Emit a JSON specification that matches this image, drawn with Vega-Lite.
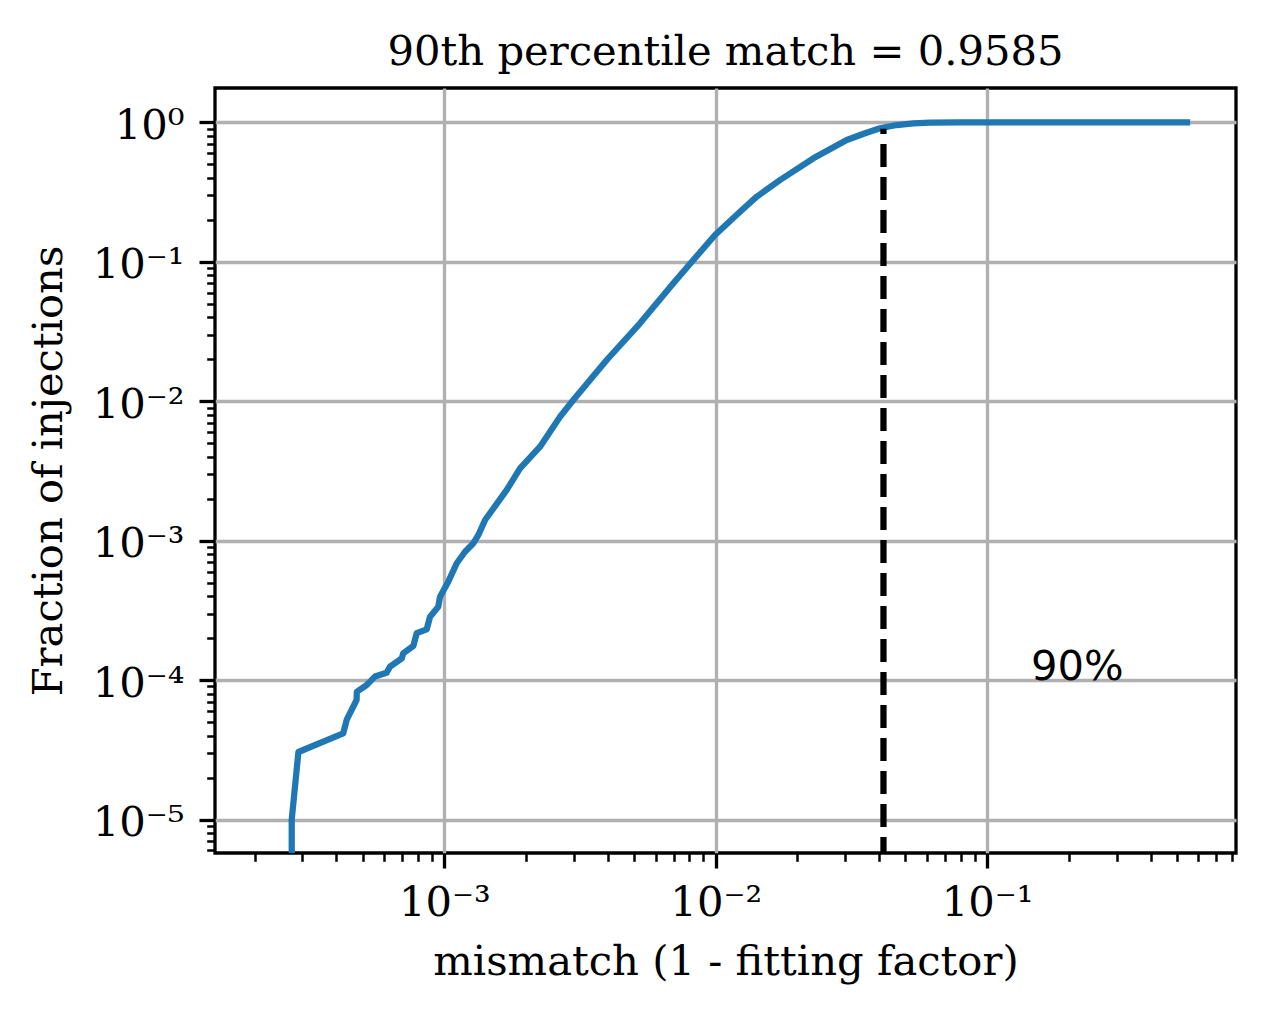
{
  "$schema": "https://vega.github.io/schema/vega-lite/v6.json",
  "width": 1021,
  "height": 765,
  "autosize": {"type": "none"},
  "padding": {"left": 215, "top": 88, "right": 29, "bottom": 160},
  "background": "white",
  "config": {
    "view": {"stroke": "black", "strokeWidth": 3.3},
    "font": "DejaVu Serif",
    "axis": {"labelFont": "DejaVu Serif", "titleFont": "DejaVu Serif", "labelColor": "black", "titleColor": "black"}
  },
  "title": {
    "text": "90th percentile match = 0.9585",
    "font": "DejaVu Serif",
    "fontSize": 41.7,
    "fontWeight": "normal",
    "color": "black",
    "anchor": "middle",
    "frame": "group",
    "baseline": "alphabetic",
    "offset": 25,
    "dy": 44
  },
  "datasets": {
    "curve": [
      {"i": 0, "mismatch": 0.000274, "fraction": 0.000003},
      {"i": 1, "mismatch": 0.000274, "fraction": 0.00001},
      {"i": 2, "mismatch": 0.00029, "fraction": 0.0000305},
      {"i": 3, "mismatch": 0.000424, "fraction": 0.0000415},
      {"i": 4, "mismatch": 0.000437, "fraction": 0.000052},
      {"i": 5, "mismatch": 0.000475, "fraction": 0.000072},
      {"i": 6, "mismatch": 0.000476, "fraction": 0.0000825},
      {"i": 7, "mismatch": 0.000517, "fraction": 0.000092},
      {"i": 8, "mismatch": 0.000555, "fraction": 0.000106},
      {"i": 9, "mismatch": 0.000613, "fraction": 0.000113},
      {"i": 10, "mismatch": 0.000631, "fraction": 0.000125},
      {"i": 11, "mismatch": 0.000697, "fraction": 0.000143},
      {"i": 12, "mismatch": 0.000706, "fraction": 0.000156},
      {"i": 13, "mismatch": 0.000769, "fraction": 0.000176},
      {"i": 14, "mismatch": 0.000791, "fraction": 0.000217},
      {"i": 15, "mismatch": 0.000861, "fraction": 0.000231},
      {"i": 16, "mismatch": 0.000886, "fraction": 0.000285},
      {"i": 17, "mismatch": 0.00095, "fraction": 0.000336},
      {"i": 18, "mismatch": 0.000964, "fraction": 0.000396},
      {"i": 19, "mismatch": 0.001034, "fraction": 0.000508},
      {"i": 20, "mismatch": 0.001111, "fraction": 0.000688},
      {"i": 21, "mismatch": 0.001192, "fraction": 0.000833},
      {"i": 22, "mismatch": 0.001279, "fraction": 0.000957},
      {"i": 23, "mismatch": 0.001335, "fraction": 0.001098},
      {"i": 24, "mismatch": 0.001413, "fraction": 0.001406},
      {"i": 25, "mismatch": 0.001698, "fraction": 0.00231},
      {"i": 26, "mismatch": 0.001901, "fraction": 0.0033},
      {"i": 27, "mismatch": 0.002253, "fraction": 0.00472},
      {"i": 28, "mismatch": 0.002669, "fraction": 0.00774},
      {"i": 29, "mismatch": 0.002987, "fraction": 0.0102},
      {"i": 30, "mismatch": 0.003966, "fraction": 0.01974},
      {"i": 31, "mismatch": 0.00526, "fraction": 0.0362},
      {"i": 32, "mismatch": 0.00698, "fraction": 0.07},
      {"i": 33, "mismatch": 0.00827, "fraction": 0.1029},
      {"i": 34, "mismatch": 0.00994, "fraction": 0.1555},
      {"i": 35, "mismatch": 0.01229, "fraction": 0.2285},
      {"i": 36, "mismatch": 0.01416, "fraction": 0.2928},
      {"i": 37, "mismatch": 0.01726, "fraction": 0.3857},
      {"i": 38, "mismatch": 0.02289, "fraction": 0.552},
      {"i": 39, "mismatch": 0.03039, "fraction": 0.7465},
      {"i": 40, "mismatch": 0.0355, "fraction": 0.834},
      {"i": 41, "mismatch": 0.0403, "fraction": 0.906},
      {"i": 42, "mismatch": 0.04646, "fraction": 0.956},
      {"i": 43, "mismatch": 0.0535, "fraction": 0.9836},
      {"i": 44, "mismatch": 0.0616, "fraction": 0.9934},
      {"i": 45, "mismatch": 0.08, "fraction": 0.998},
      {"i": 46, "mismatch": 0.1, "fraction": 1.0},
      {"i": 47, "mismatch": 0.545, "fraction": 1.0}
    ],
    "cut": [
      {"mismatch": 0.0415, "low": 0.000001, "high": 0.9}
    ],
    "note": [
      {"mismatch": 0.145, "fraction": 0.0001, "label": "90%"}
    ]
  },
  "layer": [
    {
      "data": {"name": "curve"},
      "mark": {"type": "line", "color": "#1f77b4", "strokeWidth": 6.25, "strokeCap": "square", "strokeJoin": "round", "clip": true},
      "encoding": {
        "x": {
          "field": "mismatch",
          "type": "quantitative",
          "scale": {"type": "log", "domain": [0.0001429, 0.826], "nice": false},
          "axis": {
            "orient": "bottom",
            "values": [0.001, 0.01, 0.1],
            "labelExpr": "datum.value < 0.005 ? '10⁻³' : datum.value < 0.05 ? '10⁻²' : '10⁻¹'",
            "labelFontSize": 41.7,
            "labelBaseline": "alphabetic",
            "labelPadding": 47,
            "labelFlush": false,
            "labelOverlap": false,
            "domain": false,
            "grid": true,
            "gridColor": "#b0b0b0",
            "gridWidth": 3.3,
            "ticks": true,
            "tickSize": 15,
            "tickWidth": 3.3,
            "tickColor": "black",
            "title": "mismatch (1 - fitting factor)",
            "titleFontSize": 41.7,
            "titleFontWeight": "normal",
            "titleBaseline": "alphabetic",
            "titleAlign": "center",
            "titleX": 510.5,
            "titleY": 121
          }
        },
        "y": {
          "field": "fraction",
          "type": "quantitative",
          "scale": {"type": "log", "domain": [0.000005755, 1.762], "nice": false},
          "axis": {
            "orient": "left",
            "values": [0.00001, 0.0001, 0.001, 0.01, 0.1, 1],
            "labelExpr": "'10' + (datum.value > 0.5 ? '⁰' : '⁻' + ['⁰','¹','²','³','⁴','⁵'][round(-log(datum.value) / LN10)])",
            "labelFontSize": 41.7,
            "labelBaseline": "alphabetic",
            "labelOffset": 16,
            "labelPadding": 15,
            "labelFlush": false,
            "labelOverlap": false,
            "domain": false,
            "grid": true,
            "gridColor": "#b0b0b0",
            "gridWidth": 3.3,
            "tickSize": 16,
            "tickWidth": 3.3,
            "tickColor": "black",
            "title": "Fraction of injections",
            "titleFontSize": 41.7,
            "titleFontWeight": "normal",
            "titleAngle": -90,
            "titleBaseline": "alphabetic",
            "titleAlign": "center",
            "titleX": -154,
            "titleY": 382.5
          }
        },
        "order": {"field": "i", "type": "quantitative"}
      }
    },
    {
      "data": {"name": "cut"},
      "mark": {"type": "rule", "color": "black", "strokeWidth": 6.25, "strokeDash": [23, 10], "clip": true},
      "encoding": {
        "x": {
          "field": "mismatch",
          "type": "quantitative",
          "axis": {
            "orient": "bottom",
            "values": [0.0002, 0.0003, 0.0004, 0.0005, 0.0006, 0.0007, 0.0008, 0.0009, 0.002, 0.003, 0.004, 0.005, 0.006, 0.007, 0.008, 0.009, 0.02, 0.03, 0.04, 0.05, 0.06, 0.07, 0.08, 0.09, 0.2, 0.3, 0.4, 0.5, 0.6, 0.7, 0.8],
            "labels": false,
            "domain": false,
            "grid": false,
            "tickSize": 8.3,
            "tickWidth": 2.5,
            "tickColor": "black",
            "title": null
          }
        },
        "y": {
          "field": "low",
          "type": "quantitative",
          "axis": {
            "orient": "left",
            "values": [0.000006, 0.000007, 0.000008, 0.000009, 0.00002, 0.00003, 0.00004, 0.00005, 0.00006, 0.00007, 0.00008, 0.00009, 0.0002, 0.0003, 0.0004, 0.0005, 0.0006, 0.0007, 0.0008, 0.0009, 0.002, 0.003, 0.004, 0.005, 0.006, 0.007, 0.008, 0.009, 0.02, 0.03, 0.04, 0.05, 0.06, 0.07, 0.08, 0.09, 0.2, 0.3, 0.4, 0.5, 0.6, 0.7, 0.8, 0.9],
            "labels": false,
            "domain": false,
            "grid": false,
            "tickSize": 8.3,
            "tickWidth": 2.5,
            "tickColor": "black",
            "title": null
          }
        },
        "y2": {"field": "high"}
      }
    },
    {
      "data": {"name": "note"},
      "mark": {"type": "text", "font": "DejaVu Sans", "fontSize": 41.7, "align": "left", "baseline": "alphabetic", "color": "black"},
      "encoding": {
        "x": {"field": "mismatch", "type": "quantitative", "axis": null},
        "y": {"field": "fraction", "type": "quantitative", "axis": null},
        "text": {"field": "label"}
      }
    }
  ],
  "resolve": {"axis": {"x": "independent", "y": "independent"}}
}
